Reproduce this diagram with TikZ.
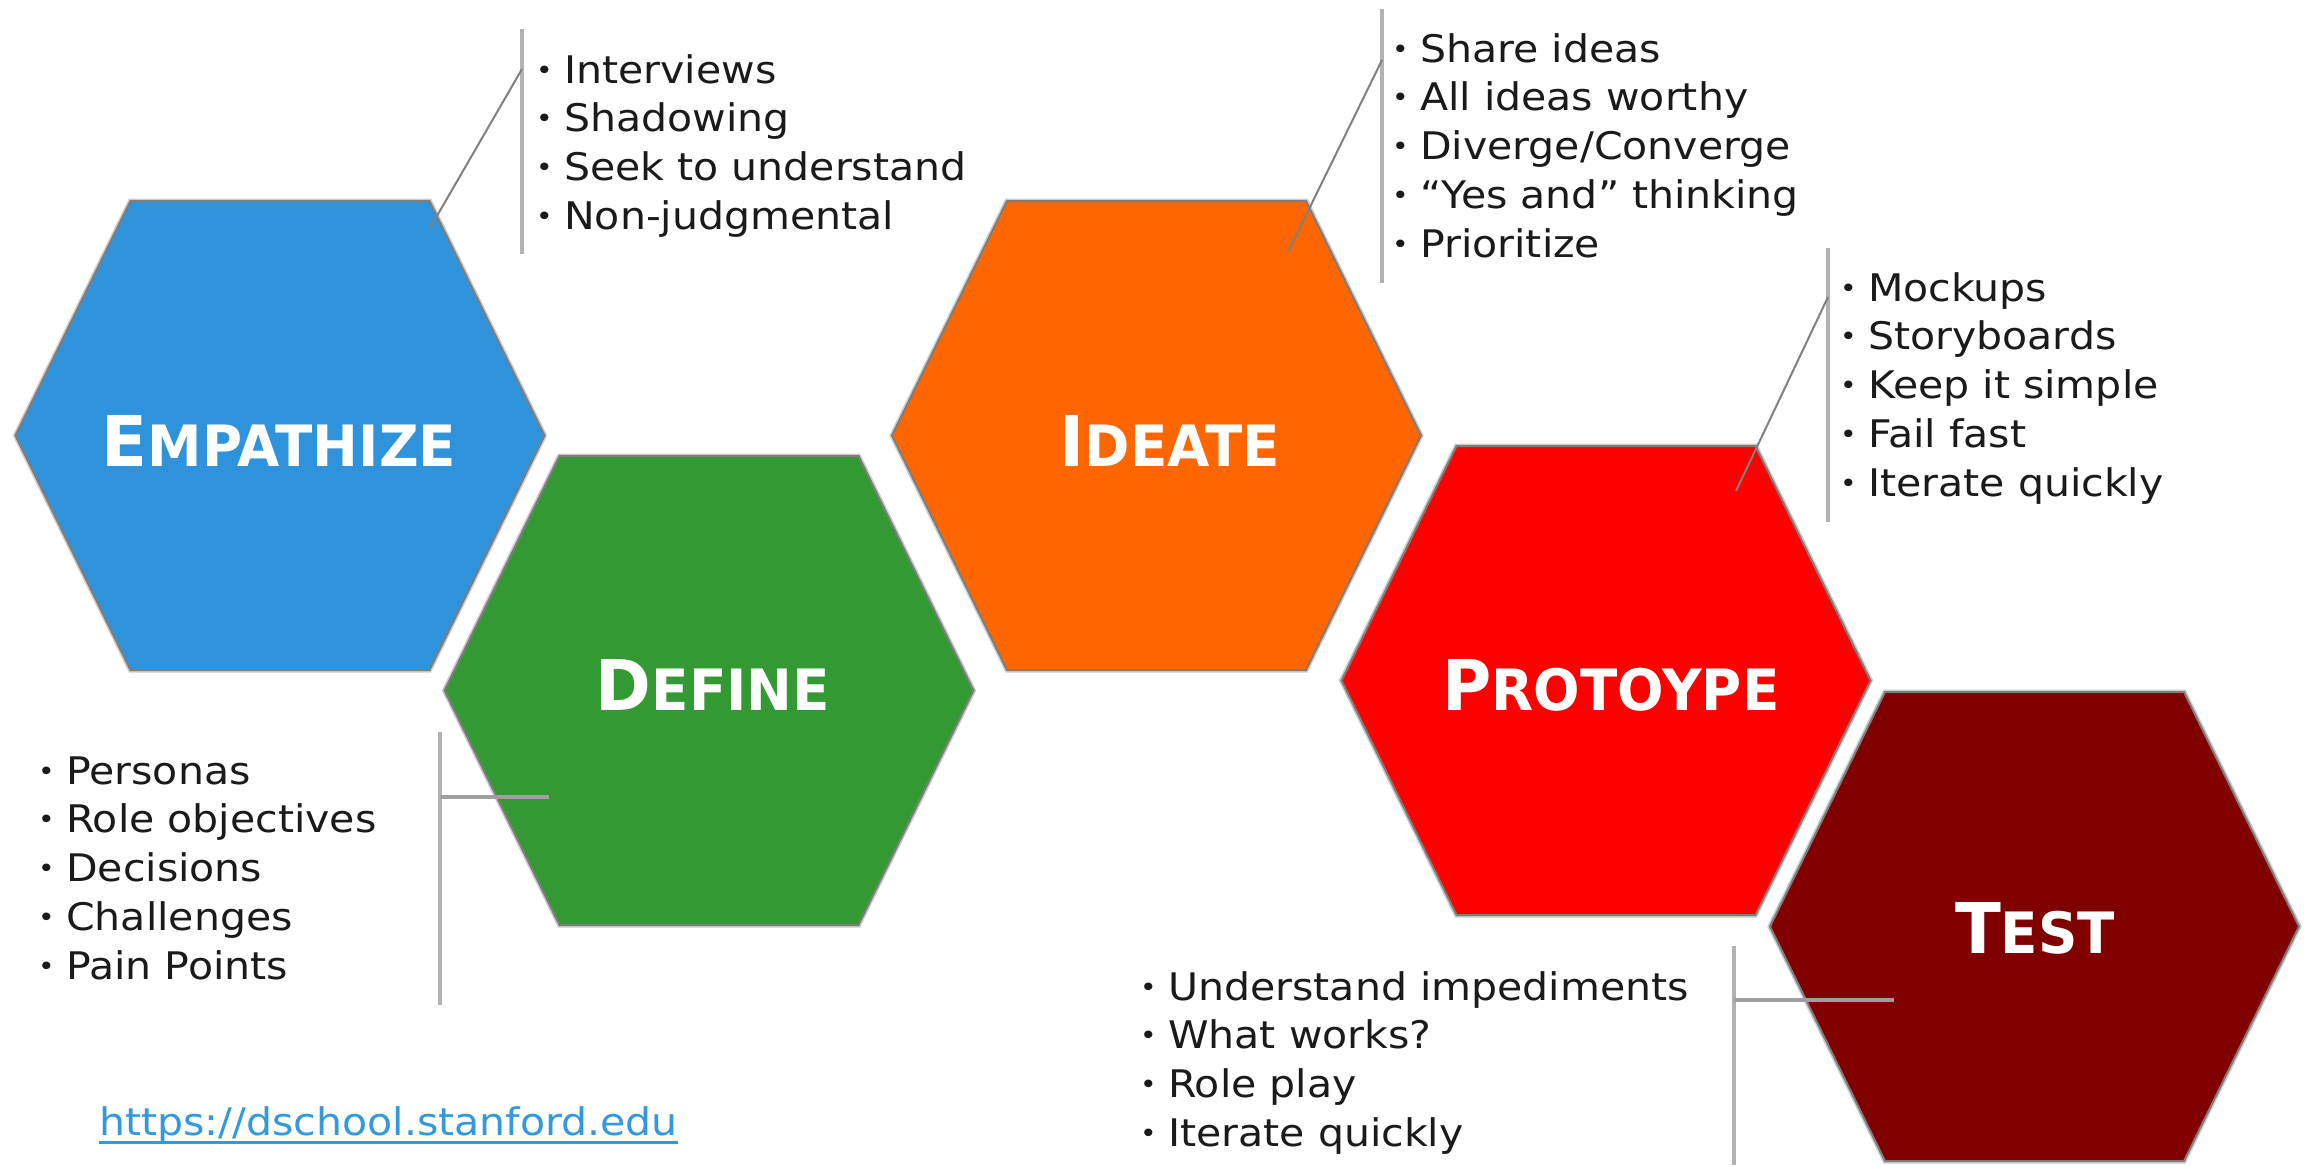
\documentclass[tikz,border=0pt]{standalone}
\usepackage{fontspec}
\setmainfont{DejaVu Sans}
\newfontfamily\listfont[FakeStretch=1.08]{DejaVu Sans}
\newfontfamily\labfont[FakeStretch=0.96]{DejaVu Sans}
\definecolor{empc}{RGB}{46,147,219}
\definecolor{defc}{RGB}{51,153,51}
\definecolor{ideac}{RGB}{255,102,0}
\definecolor{protc}{RGB}{255,0,0}
\definecolor{testc}{RGB}{128,0,0}
\definecolor{barc}{RGB}{178,178,178}
\definecolor{linkc}{RGB}{128,128,128}
\definecolor{hlinkc}{RGB}{160,160,160}
\definecolor{urlc}{RGB}{51,153,221}
\definecolor{edgec}{RGB}{125,125,125}
\definecolor{haloc}{RGB}{205,205,205}
\definecolor{txtc}{RGB}{26,26,26}
\newcommand\bul{\makebox[26pt][l]{\hspace{-2pt}\raisebox{4pt}{\fontsize{26}{26}\selectfont •}}}
\newcommand\sclab[2]{{\fontsize{70}{70}\selectfont #1}{\fontsize{57}{57}\selectfont #2}}
\newcommand\hexa[4]{%
  \coordinate (#1) at (#2,#3);
  \draw[hexhalo, shift={(#2,#3)}] (-264.5,0) -- (-149.5,-234.5) -- (149.5,-234.5)
    -- (264.5,0) -- (149.5,234.5) -- (-149.5,234.5) -- cycle;
  \draw[hexedge, fill=#4, shift={(#2,#3)}] (-264.5,0) -- (-149.5,-234.5) -- (149.5,-234.5)
    -- (264.5,0) -- (149.5,234.5) -- (-149.5,234.5) -- cycle;
}
\tikzset{
  hexhalo/.style={draw=haloc, line width=5pt, line join=miter},
  hexedge/.style={draw=edgec, line width=2pt, line join=miter},
  hexlabel/.style={font=\labfont\bfseries, text=white, inner sep=0pt, anchor=base},
  listtxt/.style={font=\listfont\fontsize{38}{48.8}\selectfont, text=txtc, inner sep=0pt, anchor=base west},
  barline/.style={draw=barc, line width=4pt},
  linkline/.style={draw=linkc, line width=2pt},
  hlinkline/.style={draw=hlinkc, line width=4pt},
}
\begin{document}
\begin{tikzpicture}[x=1pt,y=-1pt]
\useasboundingbox (0,0) rectangle (2313,1165);
\fill[white] (0,0) rectangle (2313,1165);

% hexagons
\hexa{hE}{280}{435.5}{empc}
\hexa{hD}{709}{690.5}{defc}
\hexa{hI}{1156.5}{435.5}{ideac}
\hexa{hP}{1606}{680.5}{protc}
\hexa{hT}{2034.5}{926.5}{testc}

% labels
\node[hexlabel] (tE) at (279,466) {\sclab{E}{MPATHIZE}};
\node[hexlabel] (tD) at (713,710) {\sclab{D}{EFINE}};
\node[hexlabel] (tI) at (1170,466) {\sclab{I}{DEATE}};
\node[hexlabel] (tP) at (1611,710) {\sclab{P}{ROTOYPE}};
\node[hexlabel] (tT) at (2035,953) {\sclab{T}{EST}};

% bars and connectors
\coordinate (b1a) at (522,29);  \coordinate (b1b) at (522,254);
\coordinate (k1) at (522,69);   \coordinate (e1) at (430,228);
\draw[barline] (b1a) -- (b1b);
\draw[linkline] (k1) -- (e1);

\coordinate (b2a) at (1382,9);  \coordinate (b2b) at (1382,283);
\coordinate (k2) at (1382,60);  \coordinate (e2) at (1288,252);
\draw[barline] (b2a) -- (b2b);
\draw[linkline] (k2) -- (e2);

\coordinate (b3a) at (1828,248); \coordinate (b3b) at (1828,522);
\coordinate (k3) at (1828,297);  \coordinate (e3) at (1736,491);
\draw[barline] (b3a) -- (b3b);
\draw[linkline] (k3) -- (e3);

\coordinate (b4a) at (440,732);  \coordinate (b4b) at (440,1005);
\coordinate (k4) at (440,797);   \coordinate (e4) at (549,797);
\draw[barline] (b4a) -- (b4b);
\draw[hlinkline] (k4) -- (e4);

\coordinate (b5a) at (1734,946); \coordinate (b5b) at (1734,1165);
\coordinate (k5) at (1734,1000); \coordinate (e5) at (1894,1000);
\draw[barline] (b5a) -- (b5b);
\draw[hlinkline] (k5) -- (e5);

% lists
\node[listtxt] (l1) at (538,83) {\begin{tabular}[t]{@{}l@{}}\bul Interviews\\ \bul Shadowing\\ \bul Seek to understand\\ \bul Non-judgmental\end{tabular}};
\node[listtxt] (l2) at (1394,62) {\begin{tabular}[t]{@{}l@{}}\bul Share ideas\\ \bul All ideas worthy\\ \bul Diverge/Converge\\ \bul “Yes and” thinking\\ \bul Prioritize\end{tabular}};
\node[listtxt] (l3) at (1842,301) {\begin{tabular}[t]{@{}l@{}}\bul Mockups\\ \bul Storyboards\\ \bul Keep it simple\\ \bul Fail fast\\ \bul Iterate quickly\end{tabular}};
\node[listtxt] (l4) at (40,784) {\begin{tabular}[t]{@{}l@{}}\bul Personas\\ \bul Role objectives\\ \bul Decisions\\ \bul Challenges\\ \bul Pain Points\end{tabular}};
\node[listtxt] (l5) at (1142,1000) {\begin{tabular}[t]{@{}l@{}}\bul Understand impediments\\ \bul What works?\\ \bul Role play\\ \bul Iterate quickly\end{tabular}};

% url
\node[listtxt, text=urlc] (url) at (99,1135) {https://dschool.stanford.edu};
\draw[draw=urlc, line width=3pt] ([yshift=-7pt]url.base west) -- ([yshift=-7pt]url.base east);
\end{tikzpicture}
\end{document}
